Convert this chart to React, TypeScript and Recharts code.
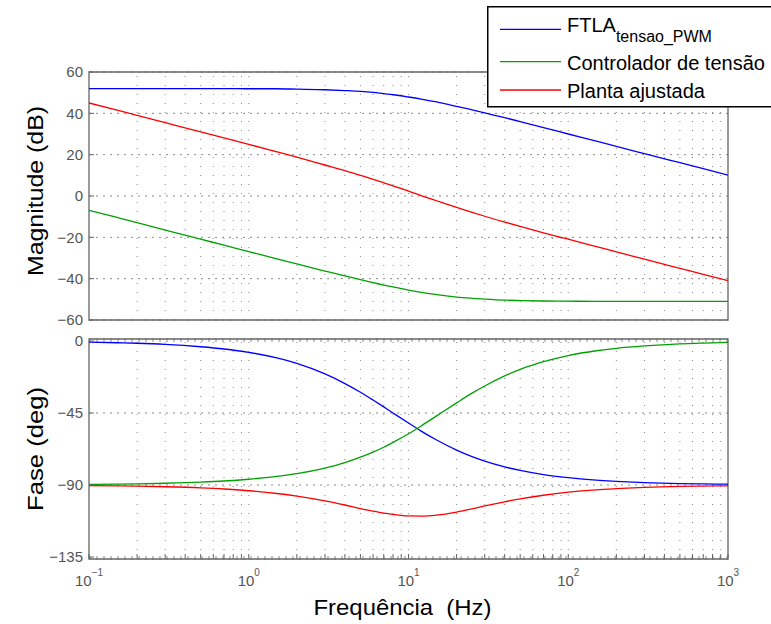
import React from 'react';
import { LineChart, Line, XAxis, YAxis, CartesianGrid, ReferenceLine, ReferenceArea, Legend } from 'recharts';

const FONT = '"Liberation Sans", Arial, Helvetica, sans-serif';

const frequencias = [0.1, 0.15, 0.2, 0.3, 0.5, 0.7, 1, 1.5, 2, 3, 4, 5, 6, 7, 8, 10, 12, 15, 20, 25, 30, 40, 50, 70, 100, 150, 200, 300, 500, 700, 1000];

// magnitude (dB)
const magFTLA = [52.0, 52.0, 52.0, 52.0, 52.0, 52.0, 51.9, 51.9, 51.7, 51.4, 51.0, 50.6, 50.1, 49.5, 49.0, 47.9, 46.9, 45.5, 43.4, 41.7, 40.2, 37.9, 36.0, 33.1, 30.0, 26.5, 24.0, 20.5, 16.1, 13.2, 10.1];
const magControlador = [-6.9, -10.4, -12.9, -16.5, -20.9, -23.8, -26.9, -30.4, -32.9, -36.3, -38.7, -40.5, -41.9, -43.1, -44.0, -45.5, -46.6, -47.7, -48.9, -49.5, -49.9, -50.4, -50.6, -50.8, -50.9, -51.0, -51.0, -51.0, -51.0, -51.0, -51.0];
const magPlanta = [45.0, 41.5, 39.0, 35.5, 31.0, 28.1, 25.0, 21.4, 18.8, 15.0, 12.3, 10.0, 8.1, 6.4, 4.9, 2.4, 0.2, -2.3, -5.5, -7.9, -9.8, -12.6, -14.7, -17.8, -20.9, -24.5, -27.0, -30.6, -35.0, -37.9, -41.0];

// phase (deg)
const faseFTLA = [-0.7, -1.1, -1.4, -2.1, -3.6, -5.0, -7.1, -10.6, -14.0, -20.6, -26.6, -32.0, -36.9, -41.2, -45.0, -51.3, -56.3, -61.9, -68.2, -72.3, -75.1, -78.7, -80.9, -83.5, -85.4, -87.0, -87.7, -88.5, -89.1, -89.3, -89.5];
const faseControlador = [-89.6, -89.5, -89.3, -88.9, -88.2, -87.5, -86.4, -84.6, -82.9, -79.4, -76.0, -72.6, -69.4, -66.4, -63.4, -58.0, -53.1, -46.8, -38.7, -32.6, -28.1, -21.8, -17.7, -12.9, -9.1, -6.1, -4.6, -3.1, -1.8, -1.3, -0.9];
const fasePlanta = [-90.4, -90.5, -90.7, -91.1, -91.8, -92.5, -93.6, -95.3, -96.9, -99.9, -102.5, -104.7, -106.3, -107.6, -108.4, -109.3, -109.4, -108.8, -106.9, -104.9, -103.1, -100.5, -98.7, -96.4, -94.5, -93.0, -92.3, -91.5, -90.9, -90.7, -90.5];

const decadas = [0.1, 1, 10, 100, 1000];
const gradeFreqs = [0.2, 0.3, 0.4, 0.5, 0.6, 0.7, 0.8, 0.9, 1, 2, 3, 4, 5, 6, 7, 8, 9, 10, 20, 30, 40, 50, 60, 70, 80, 90, 100, 200, 300, 400, 500, 600, 700, 800, 900];
const todosTicks = [0.1, ...gradeFreqs, 1000];
const magTicks = [-60, -40, -20, 0, 20, 40, 60];
const faseTicks = [-135, -90, -45, 0];
const magDomain = [-60, 60];
const faseDomain = [-136.25, 1.25];

const series = [
  { key: 'ftla', nome: 'FTLA', sub: 'tensao_PWM', cor: '#0000ff' },
  { key: 'ctrl', nome: 'Controlador de tensão', sub: '', cor: '#00a000' },
  { key: 'planta', nome: 'Planta ajustada', sub: '', cor: '#ff0000' },
];

const magData = frequencias.map((f, i) => ({ f, ftla: magFTLA[i], ctrl: magControlador[i], planta: magPlanta[i] }));
const faseData = frequencias.map((f, i) => ({ f, ftla: faseFTLA[i], ctrl: faseControlador[i], planta: fasePlanta[i] }));

const minus = (v: number) => String(v).replace('-', '\u2212');
const axisGray = '#666';
const tickLineStyle = { stroke: axisGray, strokeWidth: 1 };

const DecadeTick = (props: any) => {
  const { x, y, payload } = props;
  if (!decadas.includes(payload.value)) return <g />;
  const e = Math.round(Math.log10(payload.value));
  return (
    <text x={x} y={y + 32} textAnchor="middle" fill="#555" fontSize={15} fontFamily={FONT}>
      10<tspan dy={-10} fontSize={10}>{minus(e)}</tspan>
    </text>
  );
};

const yLabel = (text: string, len: number, shift: number) => (props: any) => {
  const vb = props.viewBox;
  const cx = vb.x + 4;
  const cy = vb.y + vb.height / 2 + shift;
  return (
    <text x={cx} y={cy} transform={`rotate(-90 ${cx} ${cy})`} textAnchor="middle" fontSize={22}
      fontFamily={FONT} fill="#000" textLength={len} lengthAdjust="spacingAndGlyphs">
      {text}
    </text>
  );
};

const xLabel = (props: any) => {
  const vb = props.viewBox;
  return (
    <text x={vb.x + vb.width / 2 - 6} y={vb.y + 56} textAnchor="middle" fontSize={22} fontFamily={FONT}
      fill="#000" textLength={178} lengthAdjust="spacingAndGlyphs">
      {'Frequência\u00a0\u00a0(Hz)'}
    </text>
  );
};

const rowsLinha = [23.3, 55.7, 84];
const rowsTexto = [26, 64, 92];

const LegendBox = () => (
  <svg width={300} height={102} style={{ display: 'block' }}>
    <rect x={0.75} y={0.75} width={310} height={100} fill="#fff" stroke="#000" strokeWidth={1.5} />
    {series.map((s, i) => (
      <g key={s.key}>
        <line x1={13} x2={74} y1={rowsLinha[i]} y2={rowsLinha[i]} stroke={s.cor} strokeWidth={1.3} />
        <text x={80} y={rowsTexto[i]} fontSize={20} fontFamily={FONT} fill="#000">
          {s.nome}
          {s.sub ? <tspan dy={10} fontSize={16}>{s.sub}</tspan> : null}
        </text>
      </g>
    ))}
  </svg>
);

const gridLines = () =>
  gradeFreqs.map((f) => (
    <ReferenceLine key={`g-${f}`} x={f} stroke="#8a8a8a" strokeDasharray="1 8" strokeWidth={1} />
  ));

const lines = () =>
  series.map((s) => (
    <Line key={s.key} type="monotone" dataKey={s.key} stroke={s.cor} strokeWidth={1.3} dot={false}
      isAnimationActive={false} />
  ));

// inward tick marks on the top and right edges of a panel
const boxTicks = (domain: number[], ticks: number[]) => [
  <XAxis key="xt" xAxisId="top" orientation="top" dataKey="f" type="number" scale="log" domain={[0.1, 1000]}
    allowDataOverflow ticks={todosTicks} interval={0} height={0} axisLine={false} tick={false}
    tickSize={-5} tickLine={tickLineStyle} />,
  <YAxis key="yr" yAxisId="right" orientation="right" type="number" domain={domain} allowDataOverflow
    ticks={ticks} interval={0} width={0} axisLine={false} tick={false} tickSize={-5} tickLine={tickLineStyle} />,
];

const App: React.FC = () => {
  return (
    <div style={{ position: 'absolute', left: 0, top: 0, width: 771, height: 624, overflow: 'hidden', background: '#fff' }}>
      <div style={{ position: 'absolute', left: 0, top: 0 }}>
        <LineChart width={771} height={330} data={magData} margin={{ top: 72, right: 43, bottom: 10, left: 39 }}>
          <CartesianGrid vertical={false} stroke="#8a8a8a" strokeDasharray="2 5" />
          {gridLines()}
          <XAxis dataKey="f" type="number" scale="log" domain={[0.1, 1000]} allowDataOverflow ticks={todosTicks}
            interval={0} height={0} axisLine={false} tick={false} tickSize={-5} tickLine={tickLineStyle} />
          <YAxis type="number" domain={magDomain} ticks={magTicks} interval={0} width={50} axisLine={false}
            tickLine={tickLineStyle} tickSize={-5} tickMargin={11} tickFormatter={minus}
            tick={{ fontSize: 15, fill: '#555', fontFamily: FONT }}
            label={{ content: yLabel('Magnitude (dB)', 170, -5) }} />
          {boxTicks(magDomain, magTicks)}
          <ReferenceArea x1={0.1} x2={1000} y1={magDomain[0]} y2={magDomain[1]} fill="none" stroke={axisGray} strokeWidth={1.3} />
          {lines()}
          <Legend layout="horizontal" verticalAlign="middle" align="center" content={() => <LegendBox />}
            wrapperStyle={{ left: 487, top: 6, width: 300, height: 102 }} />
        </LineChart>
      </div>
      <div style={{ position: 'absolute', left: 0, top: 330 }}>
        <LineChart width={771} height={294} data={faseData} margin={{ top: 9, right: 43, bottom: 0, left: 39 }}>
          <CartesianGrid vertical={false} stroke="#8a8a8a" strokeDasharray="2 5" />
          {gridLines()}
          <XAxis dataKey="f" type="number" scale="log" domain={[0.1, 1000]} allowDataOverflow ticks={todosTicks}
            interval={0} height={65} axisLine={false} tickLine={tickLineStyle} tickSize={-5} tickMargin={0}
            tick={<DecadeTick />} label={{ content: xLabel }} />
          <YAxis type="number" domain={faseDomain} allowDataOverflow ticks={faseTicks} interval={0} width={50}
            axisLine={false} tickLine={tickLineStyle} tickSize={-5} tickMargin={11} tickFormatter={minus}
            tick={{ fontSize: 15, fill: '#555', fontFamily: FONT }}
            label={{ content: yLabel('Fase (deg)', 124, 0) }} />
          {boxTicks(faseDomain, faseTicks)}
          <ReferenceArea x1={0.1} x2={1000} y1={faseDomain[0]} y2={faseDomain[1]} fill="none" stroke={axisGray} strokeWidth={1.3} />
          {lines()}
        </LineChart>
      </div>
    </div>
  );
};

export default App;
